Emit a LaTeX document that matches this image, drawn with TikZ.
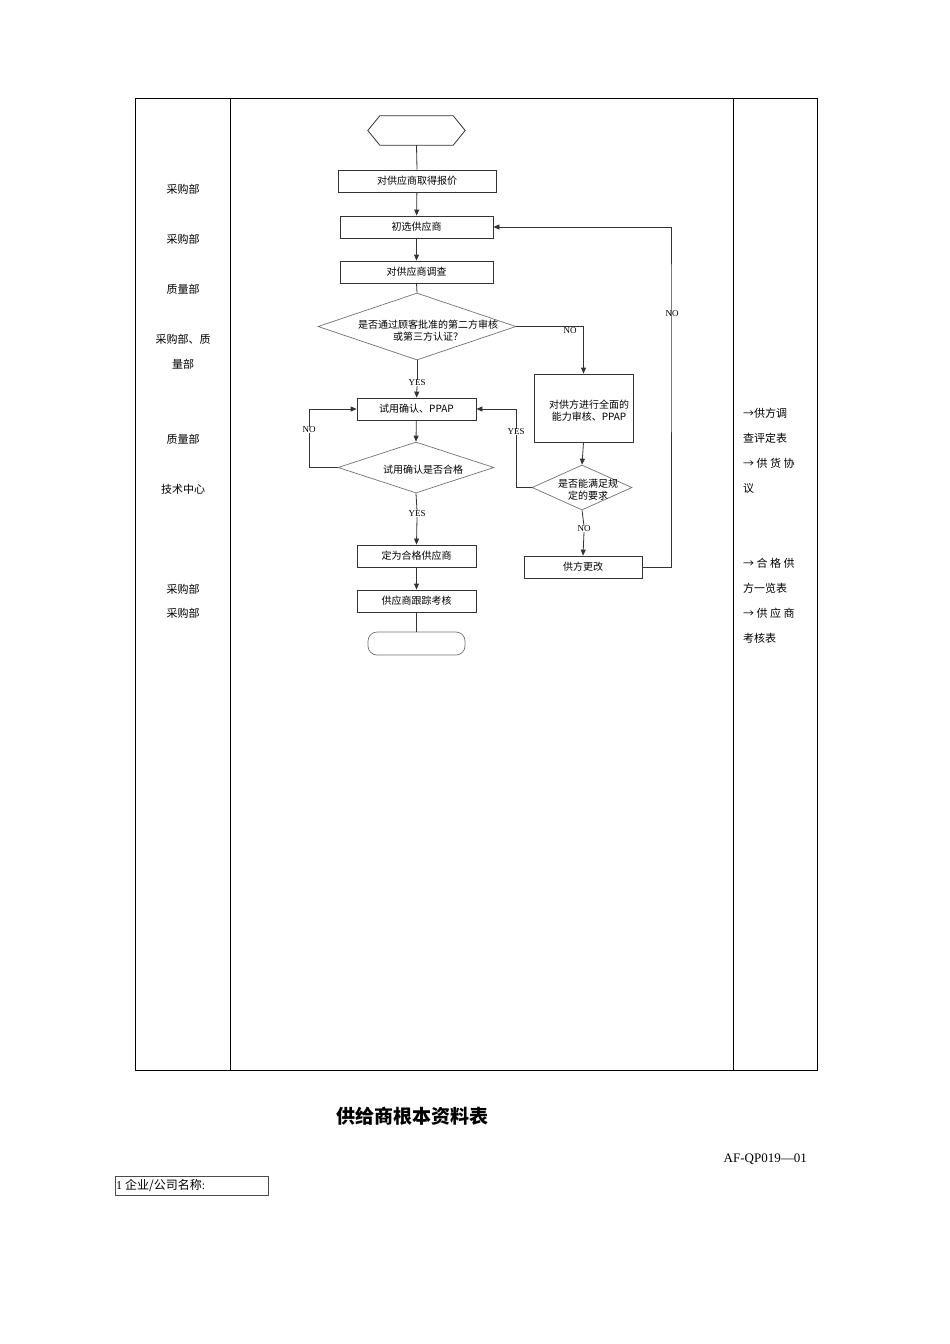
\documentclass[tikz,border=0pt]{standalone}
\usepackage{fontspec}
\setmainfont{Liberation Serif}
\newfontfamily\cjk{Noto Sans CJK SC}
\usetikzlibrary{shapes.geometric,arrows.meta}
\begin{document}
\begin{tikzpicture}[x=1pt,y=-1pt,
  bx/.style={draw=black!80,line width=0.8pt,minimum height=22pt,inner sep=0pt,font=\cjk\fontsize{10}{12}\selectfont},
  dm/.style={draw=black!55,line width=0.7pt,diamond,inner sep=0pt},
  dt/.style={font=\cjk\fontsize{10}{12}\selectfont,align=center,inner sep=0pt},
  lb/.style={font=\fontsize{9}{10}\selectfont,inner sep=0pt},
  ln/.style={draw=black!80,line width=0.8pt},
  ar/.style={ln,-{Triangle[length=6pt,width=5pt]}},
  side/.style={font=\cjk\fontsize{11}{13}\selectfont,inner sep=0pt},
  rside/.style={font=\cjk\fontsize{11}{13}\selectfont,inner sep=0pt,anchor=west,text width=62pt,align=justify}]
\useasboundingbox (0,0) rectangle (950,1344);
\fill[white] (0,0) rectangle (950,1344);
% table
\draw[line width=0.8pt] (135,98) rectangle (817,1070);
\draw[line width=0.8pt] (230,98) -- (230,1070) (733,98) -- (733,1070);
% left labels
\node[side] (l1) at (183,189) {采购部};
\node[side] (l2) at (183,239) {采购部};
\node[side] (l3) at (183,289) {质量部};
\node[side] (l4) at (183,339) {采购部、质};
\node[side] (l4b) at (183,364) {量部};
\node[side] (l5) at (183,439) {质量部};
\node[side] (l6) at (183,489) {技术中心};
\node[side] (l7) at (183,589) {采购部};
\node[side] (l8) at (183,613) {采购部};
% right labels
\node[side,anchor=west] (r1) at (743,413) {→供方调};
\node[side,anchor=west] (r2) at (743,438) {查评定表};
\node[side,anchor=west] (r3) at (743,463) {→ 供 货 协};
\node[side,anchor=west] (r4) at (743,488) {议};
\node[side,anchor=west] (r5) at (743,563) {→ 合 格 供};
\node[side,anchor=west] (r6) at (743,588) {方一览表};
\node[side,anchor=west] (r7) at (743,613) {→ 供 应 商};
\node[side,anchor=west] (r8) at (743,638) {考核表};
% start hexagon
\node[minimum width=97pt,minimum height=29pt,inner sep=0pt] (st) at (416.5,130.5) {};
\draw[black!80,line width=0.8pt] (st.west) -- ([xshift=12pt]st.north west) -- ([xshift=-12pt]st.north east) -- (st.east) -- ([xshift=-12pt]st.south east) -- ([xshift=12pt]st.south west) -- cycle;
% boxes
\node[bx,minimum width=158pt] (b1) at (417,181) {对供应商取得报价};
\node[bx,minimum width=153pt] (b2) at (416.5,227) {初选供应商};
\node[bx,minimum width=153pt] (b3) at (416.5,272) {对供应商调查};
\node[dm,minimum width=198pt,minimum height=67pt] (d1) at (417,326.5) {};
\node[dt] (d1t) at (428,331) {是否通过顾客批准的第二方审核\\或第三方认证？};
\node[bx,minimum width=99pt,minimum height=68pt] (b4) at (583.5,408) {};
\node[dt] (b4t) at (589,411) {对供方进行全面的\\能力审核、PPAP};
\node[dm,minimum width=100pt,minimum height=45pt] (d3) at (582,487.5) {};
\node[dt] (d3t) at (588,490) {是否能满足规\\定的要求};
\node[bx,minimum width=118pt] (b7) at (583,567) {供方更改};
\node[bx,minimum width=119pt] (b5) at (416.5,409) {试用确认、PPAP};
\node[dm,minimum width=156pt,minimum height=51pt] (d2) at (416,467.5) {};
\node[dt] (d2t) at (423,470) {试用确认是否合格};
\node[bx,minimum width=119pt] (b6) at (416.5,556) {定为合格供应商};
\node[bx,minimum width=119pt] (b8) at (416.5,601) {供应商跟踪考核};
\node[draw=black!55,line width=0.7pt,rounded corners=9pt,minimum width=97pt,minimum height=23pt] (en) at (416.5,643.5) {};
% labels
\node[lb] (y1) at (417,383) {YES};
\node[lb] (n1) at (570,331) {NO};
\node[lb] (y3) at (516,432) {YES};
\node[lb] (n3) at (584,529) {NO};
\node[lb] (n4) at (672,314) {NO};
\node[lb] (n2) at (309,430) {NO};
\node[lb] (y2) at (417,514) {YES};
% connectors
\draw[ln] (st.south) -- (b1.north);
\draw[ar] (b1) -- (b2);
\draw[ar] (b2) -- (b3);
\draw[ln] (b3.south) -- (d1.north);
\draw[ln] (d1.south) -- (y1.north);
\draw[ar] (y1.south) -- (b5.north);
\draw[ar] (d1.east) -| (b4.north);
\draw[ar] (b4.south) -- (d3.north);
\draw[ln] (d3.south) -- (n3.north);
\draw[ar] (n3.south) -- (b7.north);
\draw[ln] (d3.west) -| (y3.south);
\draw[ar] (y3.north) |- (b5.east);
\draw[ar] (b7.east) -| (671,300) |- (b2.east);
\draw[ar] (b5) -- (d2.north);
\draw[ln] (d2.west) -| (n2.south);
\draw[ar] (n2.north) |- (b5.west);
\draw[ln] (d2.south) -- (y2.north);
\draw[ar] (y2.south) -- (b6.north);
\draw[ar] (b6) -- (b8);
\draw[ln] (b8.south) -- (en.north);
% bottom
\node[font=\cjk\bfseries\fontsize{19}{22}\selectfont] (ti) at (412,1116) {供给商根本资料表};
\node[anchor=east,font=\fontsize{13}{15}\selectfont,inner sep=0pt] (code) at (807,1159) {AF-QP019—01};
\node[draw=black!70,line width=0.6pt,minimum width=153pt,minimum height=19pt,inner sep=1pt,anchor=west,font=\fontsize{12}{14}\selectfont] (cn) at (115,1185.5) {};
\node[anchor=west,inner sep=0pt,font=\fontsize{12}{14}\selectfont] (cnt) at (116,1185.5) {1 {\cjk 企业/公司名称}:};
\end{tikzpicture}
\end{document}
